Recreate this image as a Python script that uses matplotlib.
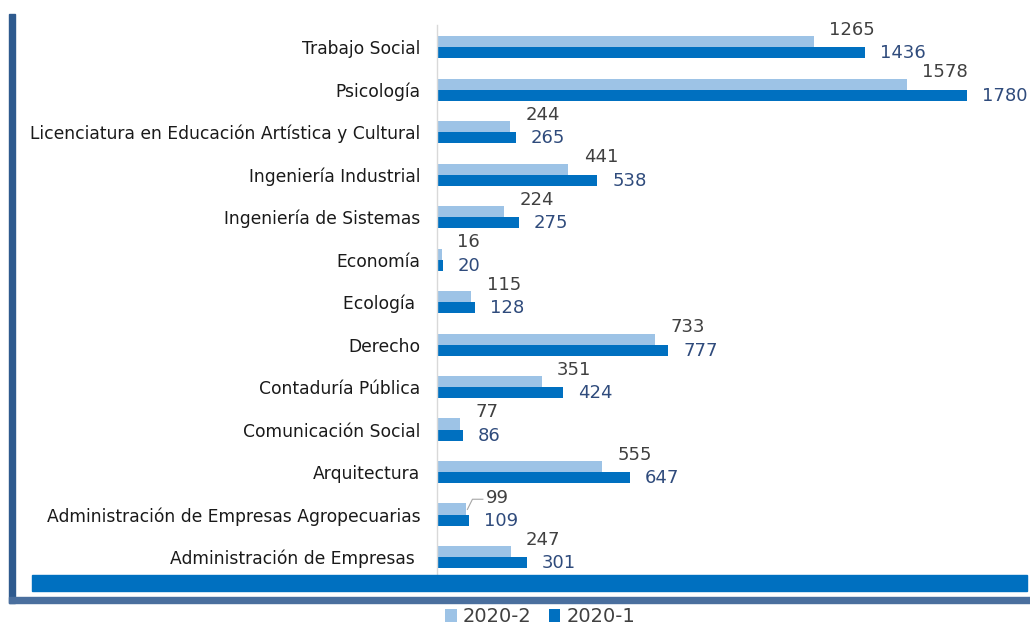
import numpy as np
import matplotlib.pyplot as plt
from matplotlib.patches import Rectangle

# categories listed bottom -> top
categories = ['Administración de Empresas ', 'Administración de Empresas Agropecuarias',
              'Arquitectura', 'Comunicación Social', 'Contaduría Pública', 'Derecho',
              'Ecología ', 'Economía', 'Ingeniería de Sistemas', 'Ingeniería Industrial',
              'Licenciatura en Educación Artística y Cultural', 'Psicología', 'Trabajo Social']
vals_2020_2 = [247, 99, 555, 77, 351, 733, 115, 16, 224, 441, 244, 1578, 1265]
vals_2020_1 = [301, 109, 647, 86, 424, 777, 128, 20, 275, 538, 265, 1780, 1436]

light = '#9DC3E6'
dark = '#0070C0'

fig = plt.figure(figsize=(10.3, 6.27), dpi=100)
ax = fig.add_axes([437 / 1030, 1 - 577 / 627, 1 - 437 / 1030, 552 / 627])

y = np.arange(len(categories))
h = 0.26
ax.barh(y + h / 2, vals_2020_2, height=h, color=light, label='2020-2')
ax.barh(y - h / 2, vals_2020_1, height=h, color=dark, label='2020-1')

ax.set_xlim(0, 1991)
ax.set_ylim(-0.47, 12.52)
ax.set_yticks(y)
ax.set_yticklabels(categories, fontsize=12.3, color='#1A1A1A')
ax.tick_params(axis='y', length=0, pad=12)
ax.set_xticks([])
for s in ['top', 'right', 'bottom']:
    ax.spines[s].set_visible(False)
ax.spines['left'].set_color('#D9D9D9')
ax.spines['left'].set_linewidth(1)

for yi, v2, v1 in zip(y, vals_2020_2, vals_2020_1):
    if v2 == 99:
        ax.plot([v2 + 3, v2 + 20, v2 + 55], [yi + 0.12, yi + 0.36, yi + 0.36],
                color='#A6A6A6', lw=0.8)
        ax.text(v2 + 66, yi + 0.38, str(v2), fontsize=13, color='#404040',
                ha='left', va='center')
    else:
        ax.text(v2 + 52, yi + 0.41, str(v2), fontsize=13, color='#404040',
                ha='left', va='center')
    ax.text(v1 + 50, yi - 0.15, str(v1), fontsize=13, color='#2F4B7C',
            ha='left', va='center')

# frame decorations
fig.patches.append(Rectangle((32 / 1030, 1 - 591 / 627), (1027 - 32) / 1030, 16 / 627,
                             transform=fig.transFigure, color=dark, zorder=0))
fig.patches.append(Rectangle((9 / 1030, 1 - 603 / 627), 6 / 1030, (603 - 14) / 627,
                             transform=fig.transFigure, color='#2E5A8E', zorder=0))
fig.patches.append(Rectangle((9 / 1030, 1 - 603 / 627), 1 - 9 / 1030, 6 / 627,
                             transform=fig.transFigure, color='#4A6F9E', zorder=0))

handles, labels = ax.get_legend_handles_labels()
leg = fig.legend(handles, labels, loc='center', bbox_to_anchor=(540 / 1030, 1 - 617 / 627),
                 ncol=2, frameon=False, fontsize=14, handlelength=0.6, handleheight=0.6,
                 handletextpad=0.3, columnspacing=0.9)
for t in leg.get_texts():
    t.set_color('#404040')

fig.savefig('out.png', dpi=100)
